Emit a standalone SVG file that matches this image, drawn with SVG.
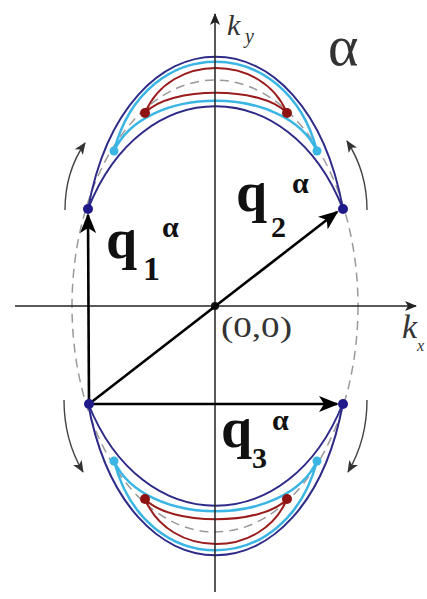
<svg xmlns="http://www.w3.org/2000/svg" width="427" height="599" viewBox="0 0 427 599">
<defs>
<style>
.axis{stroke:#222;stroke-width:1.5;fill:none}
.vec{stroke:#000;stroke-width:2.6;fill:none}
.rot{stroke:#444;stroke-width:1.4;fill:none}
.navy{stroke:#2e2a88;stroke-width:2;fill:none}
.cyan{stroke:#3bb6e4;stroke-width:2.5;fill:none}
.red{stroke:#9a1c1c;stroke-width:2;fill:none}
.dash{stroke:#9a9a9a;stroke-width:1.5;fill:none;stroke-dasharray:9 6}
text{font-family:"Liberation Serif","Times New Roman",Times,"DejaVu Serif",serif}
.q{font-weight:bold;fill:#111}
.lab{fill:#333}
</style>
<marker id="ah" markerWidth="20" markerHeight="16" refX="18" refY="8" orient="auto" markerUnits="userSpaceOnUse">
<path d="M0,0 L20,8 L0,16 L5,8 Z" fill="#000"/>
</marker>
<marker id="axh" markerWidth="12" markerHeight="10" refX="11" refY="5" orient="auto" markerUnits="userSpaceOnUse">
<path d="M0,0 L12,5 L0,10 L3,5 Z" fill="#222"/>
</marker>
<marker id="rh" markerWidth="12" markerHeight="10" refX="11" refY="5" orient="auto" markerUnits="userSpaceOnUse">
<path d="M0,0 L12,5 L0,10 L3,5 Z" fill="#333"/>
</marker>
<g id="band">
<path class="navy" d="M88,209 C125,6 306,6 343,209"/>
<path class="navy" d="M88,209 C142,72 289,72 343,209"/>
<path class="cyan" d="M114,151 C145,32 286,32 317,151 C286,84 145,84 114,151 Z"/>
<path class="red" d="M145,113 C170,53 262,53 287,113 C262,86 170,86 145,113 Z"/>
<circle cx="114" cy="151" r="4.5" fill="#3bb6e4"/>
<circle cx="317" cy="151" r="4.5" fill="#3bb6e4"/>
<circle cx="145" cy="113" r="5" fill="#8e1212"/>
<circle cx="287" cy="113" r="5" fill="#8e1212"/>
</g>
</defs>

<g id="dashed-ellipse">
<ellipse class="dash" cx="215" cy="306" rx="143" ry="226"/>
</g>

<g id="top-band"><use href="#band"/></g>
<g id="bottom-band"><use href="#band" transform="matrix(1,0,0,-1,0,612)"/></g>

<g id="axes">
<line class="axis" x1="15" y1="306" x2="416" y2="306" marker-end="url(#axh)"/>
<line class="axis" x1="215" y1="592" x2="215" y2="14" marker-end="url(#axh)"/>
<circle cx="215" cy="306" r="4" fill="#111"/>
</g>

<g id="connectors">
<line class="vec" x1="89" y1="404" x2="88" y2="215" marker-end="url(#ah)"/>
<line class="vec" x1="89" y1="404" x2="337" y2="212" marker-end="url(#ah)"/>
<line class="vec" x1="89" y1="404" x2="337" y2="404" marker-end="url(#ah)"/>
<path class="rot" d="M65,210 Q65,172 85,143" marker-end="url(#rh)"/>
<path class="rot" d="M367,210 Q367,172 347,141" marker-end="url(#rh)"/>
<path class="rot" d="M64,400 Q64,440 83,472" marker-end="url(#rh)"/>
<path class="rot" d="M367,400 Q367,440 348,472" marker-end="url(#rh)"/>
</g>

<g id="dots">
<circle cx="88" cy="209" r="5" fill="#1e1a8a"/>
<circle cx="343" cy="209" r="5" fill="#1e1a8a"/>
<circle cx="89" cy="404" r="5" fill="#1e1a8a"/>
<circle cx="343" cy="404" r="5" fill="#1e1a8a"/>
</g>

<g id="labels">
<text class="q" x="106" y="258" font-size="56">q</text>
<text class="q" x="143" y="280" font-size="34">1</text>
<text class="q" x="162" y="237" font-size="30">α</text>
<text class="q" x="236" y="211" font-size="56">q</text>
<text class="q" x="271" y="237" font-size="30">2</text>
<text class="q" x="292" y="193" font-size="30">α</text>
<text class="q" x="221" y="447" font-size="56">q</text>
<text class="q" x="252" y="468" font-size="30">3</text>
<text class="q" x="272" y="430" font-size="30">α</text>
<text class="lab" x="328" y="65" font-size="58">α</text>
<text class="lab" x="227" y="35" font-size="30" font-style="italic">k</text>
<text class="lab" x="245" y="43" font-size="20" font-style="italic">y</text>
<text class="lab" x="402" y="338" font-size="34" font-style="italic">k</text>
<text class="lab" x="417" y="351" font-size="16" font-style="italic">x</text>
<text class="lab" x="221" y="337" font-size="29" textLength="71" lengthAdjust="spacingAndGlyphs">(0,0)</text>
</g>
</svg>
